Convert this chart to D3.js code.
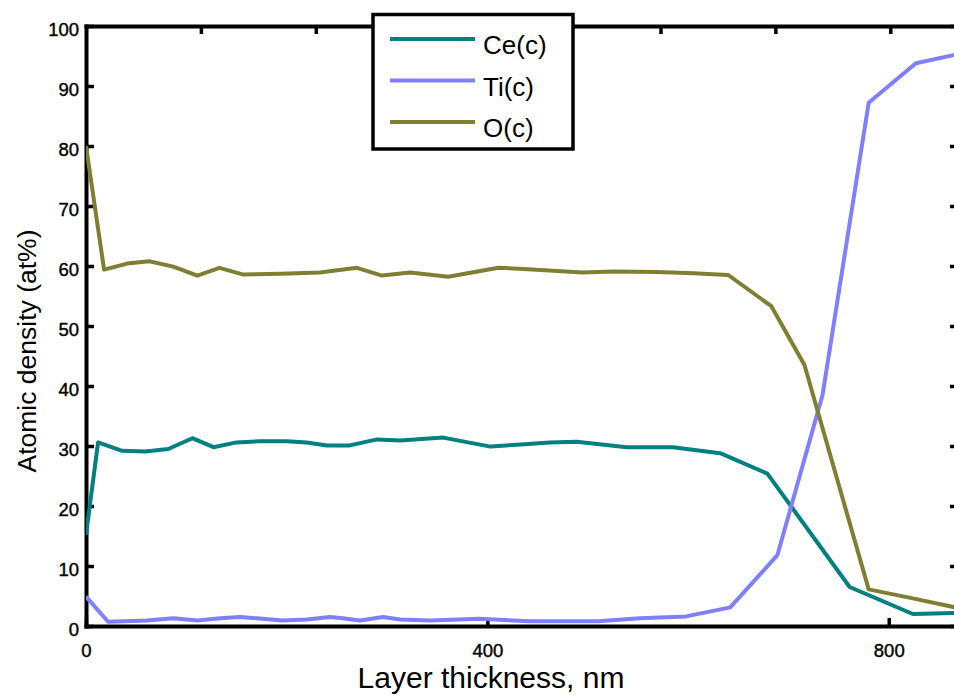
<!DOCTYPE html>
<html>
<head>
<meta charset="utf-8">
<script src="https://cdn.jsdelivr.net/npm/d3@7/dist/d3.min.js"></script>
<style>
  html, body { margin: 0; padding: 0; background: #fff; overflow: hidden; }
  svg { display: block; font-family: "Liberation Sans", Arial, Helvetica, sans-serif; }
</style>
</head>
<body>
<svg id="chart" width="954" height="695"></svg>
<script>
// Depth profile: atomic concentration of Ce, Ti and O versus layer thickness
const ceDepth = [0, 12, 36, 59, 82, 106, 127, 150, 173, 200, 220, 240, 263, 290, 313, 356, 403, 437, 462, 489, 539, 585, 632, 679, 761, 824, 869];
const ceValue = [15.2, 30.6, 29.2, 29.1, 29.5, 31.3, 29.8, 30.6, 30.8, 30.8, 30.6, 30.1, 30.1, 31.1, 30.9, 31.4, 29.9, 30.3, 30.6, 30.7, 29.8, 29.8, 28.8, 25.4, 6.5, 2.0, 2.2];

const tiDepth = [0, 22, 61, 87, 111, 134, 153, 170, 196, 220, 243, 256, 273, 296, 313, 343, 392, 442, 510, 552, 598, 642, 689, 734, 780, 827, 869];
const tiValue = [4.9, 0.7, 0.9, 1.3, 0.9, 1.3, 1.5, 1.3, 0.9, 1.1, 1.5, 1.3, 0.9, 1.5, 1.1, 0.9, 1.2, 0.8, 0.8, 1.3, 1.6, 3.1, 11.8, 38.5, 87.2, 93.8, 95.3];

const oDepth = [0, 18, 41, 63, 87, 111, 133, 156, 195, 233, 270, 295, 323, 361, 411, 436, 495, 525, 569, 605, 640, 683, 716, 780, 824, 869];
const oValue = [80.0, 59.4, 60.4, 60.8, 59.9, 58.4, 59.7, 58.6, 58.7, 58.9, 59.7, 58.4, 58.9, 58.2, 59.7, 59.5, 58.9, 59.1, 59.0, 58.8, 58.5, 53.3, 43.5, 6.1, 4.6, 3.0];

const seriesNames = ["Ce(c)", "Ti(c)", "O(c)"];
const seriesColors = ["#008080", "#7f7fff", "#7f7f33"];

const xTicks = [0, 400, 800];
const topTicks = [114.5, 229, 343.5, 458, 572.5, 687, 801.5];
const yTicks = [0, 10, 20, 30, 40, 50, 60, 70, 80, 90, 100];
const xDomain = [0, 869];
const yDomain = [0, 100];
const xTitle = "Layer thickness, nm";
const yTitle = "Atomic density (at%)";

const series = [
  { name: seriesNames[0], color: seriesColors[0], pts: ceDepth.map((d, i) => [d, ceValue[i]]) },
  { name: seriesNames[1], color: seriesColors[1], pts: tiDepth.map((d, i) => [d, tiValue[i]]) },
  { name: seriesNames[2], color: seriesColors[2], pts: oDepth.map((d, i) => [d, oValue[i]]) }
];

const svg = d3.select("#chart");
const plotLeft = 86, plotRight = 958, plotTop = 26, plotBottom = 626;

const x = d3.scaleLinear().domain(xDomain).range([plotLeft, plotRight]);
const y = d3.scaleLinear().domain(yDomain).range([plotBottom, plotTop]);

svg.append("defs").append("clipPath").attr("id", "plotClip")
  .append("rect")
  .attr("x", plotLeft).attr("y", plotTop)
  .attr("width", plotRight - plotLeft).attr("height", plotBottom - plotTop);

// axes box with inward ticks
function styleAxis(g) {
  g.select(".domain").attr("stroke", "#000").attr("stroke-width", 4).attr("stroke-linecap", "square");
  g.selectAll(".tick line").attr("stroke", "#000").attr("stroke-width", 3.5);
  g.selectAll(".tick text")
    .attr("fill", "#000")
    .attr("stroke", "#000").attr("stroke-width", 0.4)
    .style("font-size", "18.5px");
  g.attr("font-family", null).attr("font-size", null);
}

svg.append("g")
  .attr("transform", `translate(0,${plotBottom})`)
  .call(d3.axisBottom(x).tickValues(xTicks).tickSize(-8).tickSizeOuter(0).tickPadding(18).tickFormat(d3.format("d")))
  .call(styleAxis);

svg.append("g")
  .attr("transform", `translate(0,${plotTop})`)
  .call(d3.axisTop(x).tickValues(topTicks).tickSize(-8).tickSizeOuter(0).tickFormat(""))
  .call(styleAxis);

svg.append("g")
  .attr("transform", `translate(${plotLeft},0)`)
  .call(d3.axisLeft(y).tickValues(yTicks).tickSize(-8).tickSizeOuter(0).tickPadding(7).tickFormat(d3.format("d")))
  .call(styleAxis)
  .call(g => g.selectAll(".tick text").attr("dy", "0.5em"));

svg.append("g")
  .attr("transform", `translate(${plotRight},0)`)
  .call(d3.axisRight(y).tickValues(yTicks).tickSize(-8).tickSizeOuter(0).tickFormat(""))
  .call(styleAxis);

// data lines
const line = d3.line().x(d => x(d[0])).y(d => y(d[1]));
svg.append("g").attr("clip-path", "url(#plotClip)")
  .selectAll("path")
  .data(series)
  .join("path")
  .attr("d", d => line(d.pts))
  .attr("fill", "none")
  .attr("stroke", d => d.color)
  .attr("stroke-width", 4)
  .attr("stroke-linejoin", "round");

// axis titles
svg.append("text")
  .attr("x", 491).attr("y", 688)
  .attr("text-anchor", "middle")
  .style("font-size", "30px")
  .text(xTitle);

svg.append("text")
  .attr("transform", "translate(36,351) rotate(-90)")
  .attr("text-anchor", "middle")
  .style("font-size", "26.5px")
  .text(yTitle);

// legend
const legend = svg.append("g");
legend.append("rect")
  .attr("x", 373).attr("y", 14.5)
  .attr("width", 200).attr("height", 134.5)
  .attr("fill", "#fff").attr("stroke", "#000").attr("stroke-width", 3.5);

const rowY = d3.scalePoint().domain(seriesNames).range([39, 122]);
const rows = legend.selectAll("g.row").data(series).join("g").attr("class", "row");
rows.append("line")
  .attr("x1", 390).attr("x2", 475)
  .attr("y1", d => rowY(d.name)).attr("y2", d => rowY(d.name))
  .attr("stroke", d => d.color).attr("stroke-width", 4);
rows.append("text")
  .attr("x", 483).attr("y", d => rowY(d.name) + 15)
  .style("font-size", "26px")
  .text(d => d.name);
</script>
</body>
</html>
